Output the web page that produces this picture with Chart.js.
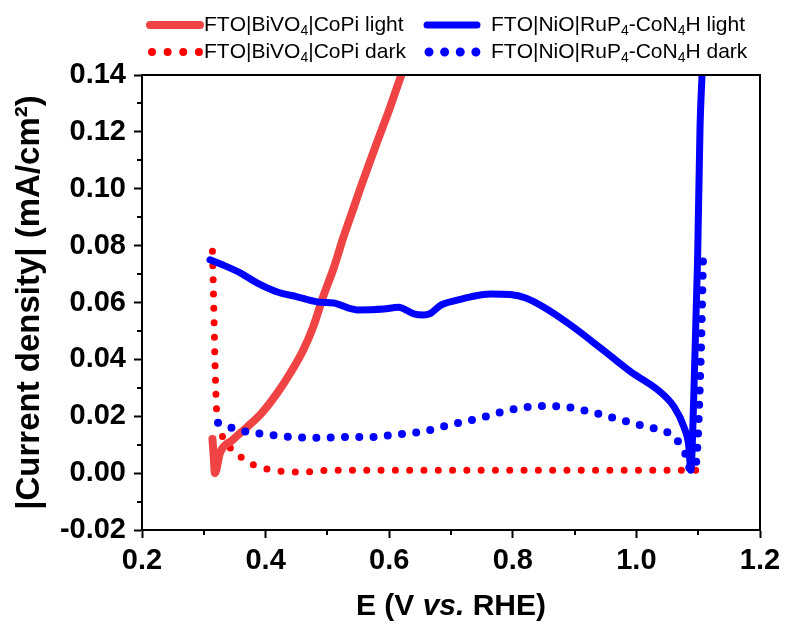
<!DOCTYPE html>
<html>
<head>
<meta charset="utf-8">
<script src="https://cdn.jsdelivr.net/npm/chart.js@4.4.1/dist/chart.umd.min.js"></script>
<style>
  html, body { margin: 0; padding: 0; background: #fff; }
</style>
</head>
<body>
<canvas id="chart" width="787" height="630"></canvas>
<script>
// x: potential E (V vs. RHE), y: |current density| (mA/cm2)
const X_MIN = 0.2;
const X_MAX = 1.2;
const Y_MIN = -0.02;
const Y_MAX = 0.14;

const bivLightE = [0.314, 0.316, 0.318, 0.326, 0.347, 0.370, 0.394, 0.419, 0.440, 0.461, 0.477, 0.493, 0.510, 0.526, 0.542, 0.553, 0.578, 0.602, 0.618, 0.630];
const bivLightJ = [0.012, 0.006, 0.000, 0.007, 0.0117, 0.0162, 0.0212, 0.0282, 0.0352, 0.0433, 0.0514, 0.062, 0.072, 0.083, 0.093, 0.100, 0.115, 0.129, 0.139, 0.146];

const bivDarkE = [0.314, 0.316, 0.318, 0.321, 0.326, 0.331, 0.346, 0.367, 0.388, 0.412, 0.437, 0.461, 0.500, 0.600, 0.700, 0.800, 0.900, 1.000, 1.109];
const bivDarkJ = [0.078, 0.060, 0.040, 0.021, 0.0162, 0.0124, 0.0082, 0.0046, 0.0022, 0.0011, 0.0004, 0.0004, 0.001, 0.001, 0.001, 0.001, 0.001, 0.001, 0.001];

const nioLightE = [0.310, 0.331, 0.359, 0.386, 0.419, 0.451, 0.484, 0.510, 0.548, 0.591, 0.615, 0.640, 0.655, 0.667, 0.683, 0.710, 0.732, 0.764, 0.796, 0.821, 0.853, 0.894, 0.942, 0.991, 1.035, 1.061, 1.077, 1.085, 1.088, 1.093, 1.099, 1.103, 1.106, 1.108];
const nioLightJ = [0.075, 0.0732, 0.0704, 0.0669, 0.0637, 0.0620, 0.0602, 0.0598, 0.0574, 0.0577, 0.0583, 0.056, 0.0556, 0.0562, 0.059, 0.0608, 0.062, 0.063, 0.0628, 0.0616, 0.058, 0.052, 0.044, 0.0356, 0.0292, 0.0233, 0.0162, 0.0092, 0.001, 0.028, 0.075, 0.122, 0.139, 0.15];

const nioDarkE = [0.323, 0.346, 0.370, 0.394, 0.440, 0.485, 0.532, 0.578, 0.602, 0.651, 0.699, 0.748, 0.796, 0.845, 0.886, 0.926, 0.975, 1.018, 1.040, 1.061, 1.080, 1.088, 1.096, 1.104, 1.108];
const nioDarkJ = [0.0177, 0.0159, 0.0145, 0.0138, 0.0127, 0.0124, 0.0127, 0.0127, 0.0134, 0.0145, 0.017, 0.0194, 0.0222, 0.0236, 0.0233, 0.0215, 0.0187, 0.0162, 0.0152, 0.0127, 0.0064, 0.001, 0.003, 0.040, 0.0775];

const seriesLabels = [
  'FTO|BiVO₄|CoPi light',
  'FTO|NiO|RuP₄-CoN₄H light',
  'FTO|BiVO₄|CoPi dark',
  'FTO|NiO|RuP₄-CoN₄H dark',
];

const FONT = '"Liberation Sans", Arial, sans-serif';
const SUBSCRIPTS = { '₄': '4' };

const toPoints = (xs, ys) => xs.map((x, i) => ({ x, y: ys[i] }));

// draws text with unicode subscript digits rendered small and lowered
const drawRichText = (ctx, text, x, y, size, weight) => {
  let cx = x;
  for (const ch of text) {
    if (SUBSCRIPTS[ch]) {
      ctx.font = `${weight} ${Math.round(size * 0.65)}px ${FONT}`;
      ctx.fillText(SUBSCRIPTS[ch], cx, y + size * 0.28);
      cx += ctx.measureText(SUBSCRIPTS[ch]).width;
    } else {
      ctx.font = `${weight} ${size}px ${FONT}`;
      ctx.fillText(ch, cx, y);
      cx += ctx.measureText(ch).width;
    }
  }
};

const legendPlugin = {
  id: 'paperLegend',
  afterDraw: chart => {
    const ctx = chart.ctx;
    const cols = [148, 425];
    const rows = [25, 52];
    const sampleW = 50;
    ctx.save();
    chart.data.datasets.forEach((ds, i) => {
      const col = cols[i % 2];
      const row = rows[Math.floor(i / 2)];
      ctx.strokeStyle = ds.borderColor;
      ctx.lineWidth = ds.borderDash.length ? ds.borderWidth + 1 : ds.borderWidth;
      ctx.lineCap = 'round';
      ctx.setLineDash(ds.borderDash.length ? [0, sampleW / 3.2] : []);
      ctx.beginPath();
      const pad = ds.borderDash.length ? 4 : 2;
      ctx.moveTo(col + pad, row);
      ctx.lineTo(col + sampleW + 2, row);
      ctx.stroke();
      ctx.setLineDash([]);
      ctx.fillStyle = '#000';
      ctx.textBaseline = 'middle';
      ctx.textAlign = 'left';
      const tx = col + sampleW + (i % 2 ? 16 : 6);
      drawRichText(ctx, ds.label, tx, row, 21, 'normal');
    });
    ctx.restore();
  },
};

const framePlugin = {
  id: 'frame',
  afterDraw: chart => {
    const { ctx, chartArea: area, scales } = chart;
    ctx.save();
    ctx.strokeStyle = '#000';
    ctx.lineWidth = 2;
    ctx.beginPath();
    ctx.moveTo(area.left, area.top);
    ctx.lineTo(area.right, area.top);
    ctx.lineTo(area.right, area.bottom);
    ctx.stroke();
    // minor ticks
    ctx.beginPath();
    for (let v = X_MIN + 0.1; v < X_MAX; v += 0.2) {
      const px = Math.round(scales.x.getPixelForValue(v));
      ctx.moveTo(px, area.bottom);
      ctx.lineTo(px, area.bottom + 5);
    }
    for (let v = Y_MIN + 0.01; v < Y_MAX; v += 0.02) {
      const py = Math.round(scales.y.getPixelForValue(v));
      ctx.moveTo(area.left, py);
      ctx.lineTo(area.left - 5, py);
    }
    ctx.stroke();
    // x axis title with italic "vs."
    const parts = [['E (V ', 'bold'], ['vs.', 'italic bold'], [' RHE)', 'bold']];
    const size = 30;
    let total = 0;
    parts.forEach(([t, w]) => {
      ctx.font = `${w} ${size}px ${FONT}`;
      total += ctx.measureText(t).width;
    });
    let x = (area.left + area.right) / 2 - total / 2;
    ctx.fillStyle = '#000';
    ctx.textBaseline = 'middle';
    ctx.textAlign = 'left';
    parts.forEach(([t, w]) => {
      ctx.font = `${w} ${size}px ${FONT}`;
      ctx.fillText(t, x, 607);
      x += ctx.measureText(t).width;
    });
    ctx.restore();
  },
};

const dotted = [0, 14.3];

new Chart(document.getElementById('chart'), {
  type: 'scatter',
  data: {
    datasets: [
      {
        label: seriesLabels[0],
        data: toPoints(bivLightE, bivLightJ),
        borderColor: 'rgb(240, 68, 68)',
        borderWidth: 8,
        borderDash: [],
        order: 3,
      },
      {
        label: seriesLabels[1],
        data: toPoints(nioLightE, nioLightJ),
        borderColor: 'rgb(0, 0, 255)',
        borderWidth: 7,
        borderDash: [],
        order: 1,
      },
      {
        label: seriesLabels[2],
        data: toPoints(bivDarkE, bivDarkJ),
        borderColor: 'rgb(255, 0, 0)',
        borderWidth: 7,
        borderDash: dotted,
        order: 4,
      },
      {
        label: seriesLabels[3],
        data: toPoints(nioDarkE, nioDarkJ),
        borderColor: 'rgb(0, 0, 255)',
        borderWidth: 8,
        borderDash: dotted,
        order: 2,
      },
    ],
  },
  plugins: [legendPlugin, framePlugin],
  options: {
    responsive: false,
    animation: false,
    devicePixelRatio: 1,
    showLine: true,
    elements: {
      point: { radius: 0, hoverRadius: 0 },
      line: { cubicInterpolationMode: 'monotone', borderCapStyle: 'round', borderJoinStyle: 'round', fill: false },
    },
    layout: {
      padding: { top: 75, right: 27, left: 0, bottom: 0 },
    },
    plugins: {
      legend: { display: false },
      tooltip: { enabled: false },
    },
    scales: {
      x: {
        type: 'linear',
        min: X_MIN,
        max: X_MAX,
        afterFit: scale => { scale.height = 100; },
        border: { display: true, color: '#000', width: 2 },
        grid: { drawOnChartArea: false, tickLength: 8, tickColor: '#000', tickWidth: 2 },
        ticks: {
          stepSize: 0.2,
          padding: 6,
          color: '#000',
          font: { family: FONT, size: 29, weight: 'bold' },
          callback: value => value.toFixed(1),
        },
      },
      y: {
        type: 'linear',
        min: Y_MIN,
        max: Y_MAX,
        afterFit: scale => { scale.width = 142; },
        border: { display: true, color: '#000', width: 2 },
        grid: { drawOnChartArea: false, tickLength: 8, tickColor: '#000', tickWidth: 2 },
        ticks: {
          stepSize: 0.02,
          padding: 8,
          color: '#000',
          font: { family: FONT, size: 29, weight: 'bold' },
          callback: value => value.toFixed(2),
        },
        title: {
          display: true,
          text: '|Current density| (mA/cm²)',
          color: '#000',
          font: { family: FONT, size: 33, weight: 'bold' },
          padding: { top: 10, bottom: 0 },
        },
      },
    },
  },
});
</script>
</body>
</html>
